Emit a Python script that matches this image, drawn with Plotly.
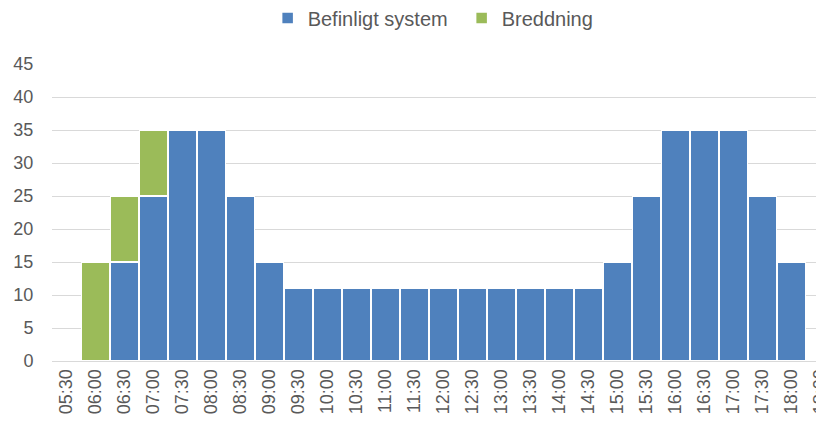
import plotly.graph_objects as go

times = ["05:30","06:00","06:30","07:00","07:30","08:00","08:30","09:00","09:30","10:00",
         "10:30","11:00","11:30","12:00","12:30","13:00","13:30","14:00","14:30","15:00",
         "15:30","16:00","16:30","17:00","17:30","18:00","18:30"]
befintligt = [None, None, 15, 25, 35, 35, 25, 15, 11, 11, 11, 11, 11, 11, 11, 11, 11, 11, 11, 15,
              25, 35, 35, 35, 25, 15, None]
breddning = [None, 15, 10, 10, None, None, None, None, None, None, None, None, None, None, None,
             None, None, None, None, None, None, None, None, None, None, None, None]

fig = go.Figure()
fig.add_trace(go.Bar(x=times, y=befintligt, name="Befinligt system",
                     marker=dict(color="#4F81BD", line=dict(color="white", width=1.5))))
fig.add_trace(go.Bar(x=times, y=breddning, name="Breddning",
                     marker=dict(color="#9BBB59", line=dict(color="white", width=1.5))))

fig.update_layout(
    barmode="stack",
    bargap=0.03,
    width=824, height=428,
    margin=dict(l=44, r=10, t=56, b=75, autoexpand=False),
    paper_bgcolor="white", plot_bgcolor="white",
    font=dict(family="Liberation Sans", size=18, color="#595959"),
    legend=dict(orientation="h", x=0.532, xanchor="center", y=1.155, yanchor="middle",
                font=dict(size=20, color="#595959"), itemwidth=30, entrywidth=149,
                traceorder="normal"),
    showlegend=True,
)
fig.update_xaxes(type="category", range=[-0.5, 26.05], tickangle=-90, showgrid=False,
                 showline=True, linecolor="#d9d9d9", linewidth=1, ticks="", automargin=False,
                 tickfont=dict(size=18, color="#595959"))
fig.update_yaxes(range=[0, 45], dtick=5, showgrid=True, gridcolor="#d9d9d9", gridwidth=1,
                 zeroline=False, ticks="outside", ticklen=14, tickcolor="white", automargin=False,
                 tickfont=dict(size=18, color="#595959"))

fig.write_html("out.html")
